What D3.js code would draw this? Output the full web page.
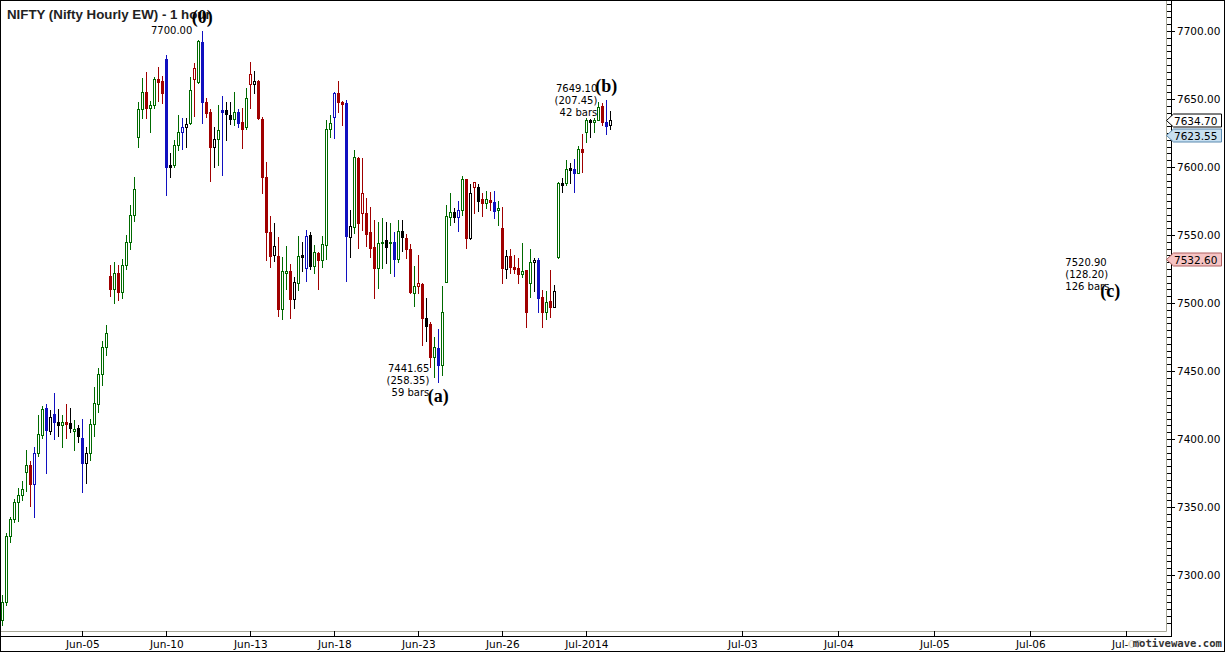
<!DOCTYPE html>
<html><head><meta charset="utf-8">
<script src="https://cdn.jsdelivr.net/npm/d3@7"></script>
<style>body{margin:0;background:#fff}svg{display:block}</style>
</head><body>
<svg id="chart" width="1225" height="652"></svg>
<script>
const opens = [7267,7280,7329,7341,7354,7359,7376,7381,7367,7390,
 7403,7422.6,7406,7418.4,7412.3,7410,7412.5,7411.5,7406,7408,
 7400.5,7382,7389.5,7410.8,7426,7448,7468,7520,7510,7522,
 7508,7528,7545,7565,7621.8,7642.4,7655.4,7643.6,7645.6,7664.5,
 7663.2,7679.2,7601.5,7601.5,7616.2,7625.5,7629.6,7632.1,7664.5,7662.7,
 7691.7,7648,7640.7,7614.5,7620.6,7641.9,7641.9,7638.2,7635.1,7640.7,
 7632.9,7629.2,7660.8,7660.8,7663.2,7635.1,7592.4,7552.4,7535.3,7534.8,
 7495.4,7522.3,7523.5,7502.9,7514.9,7535.3,7525.5,7550,7527.4,7536.6,
 7531.6,7542.6,7627.7,7636.5,7654.2,7648,7647.3,7548.7,7556.1,7606.4,
 7566,7566,7552,7541.4,7525.5,7543.9,7546.3,7544,7545.1,7532.4,
 7553.2,7547.6,7539.7,7507.6,7512.5,7514,7489.2,7484.3,7460.5,7466.7,
 7454.4,7515.7,7563.5,7566.7,7563,7568.4,7591,7547.6,7585.1,7585.1,
 7576.2,7573.3,7575.7,7574,7568.4,7554.9,7524.8,7534.8,7526.2,7525.5,
 7521.1,7524.3,7514.5,7529.9,7531.6,7504.2,7493.6,7501.5,7496.8,7534,
 7588,7588,7599,7598.3,7595.8,7613,7626,7634.6,7633.3,7634.6,
 7644.9,7633.3,7630.9];
const highs = [7285,7331,7343,7356,7364,7369,7392,7384,7394,7418,
 7424,7426,7421,7433.6,7422,7418,7426,7423,7414,7410,
 7415,7394,7415,7438,7452,7472,7484,7528,7530,7528,
 7532,7550,7572,7593,7648,7665.2,7669.6,7648.5,7666.4,7673.7,
 7666.9,7682.4,7610.1,7619.9,7638.2,7635.8,7635.8,7666.4,7676.7,7693.4,
 7700,7650.5,7642.4,7629.2,7645.6,7652.2,7648,7648,7655.4,7642.4,
 7643.2,7657.9,7677,7670.8,7664,7636.5,7603.9,7564,7558.6,7548.7,
 7533.6,7541.9,7528.7,7519.3,7549.3,7545.1,7553.7,7552.4,7542.6,7537.8,
 7549.3,7634.6,7638.2,7655.4,7663.2,7648.7,7649.3,7568.4,7612.5,7607,
 7606.4,7577,7570.8,7561,7559.8,7562.3,7559.8,7558.6,7552.4,7561,
 7561,7550.5,7543.4,7527.2,7535.3,7514.5,7503.5,7486.3,7475.2,7480.7,
 7512.5,7572.1,7581.1,7569.6,7575,7593.4,7591.5,7587.5,7589.2,7587.3,
 7580.7,7582.4,7581.8,7582.4,7575,7570.4,7539,7539.5,7535.3,7532.9,
 7544.3,7524.5,7539.7,7532.9,7532.9,7509.6,7509,7524.3,7513.2,7589.2,
 7591.7,7605.1,7602.7,7605.7,7615.4,7624.3,7635.8,7635,7635.8,7647.6,
 7646.8,7649.1,7641.4];
const lows = [7263,7278,7324,7339,7340,7355,7362,7351,7343,7387.5,
 7401,7375,7404,7400,7402,7394,7401,7405,7392,7397.6,
 7361,7368,7384.6,7402.4,7420,7440,7462,7505,7500,7502,
 7504,7525,7540,7560,7614.9,7635.8,7635.8,7626,7643.2,7648.7,
 7646.8,7579.4,7592.9,7599.8,7612.5,7613.2,7614.5,7631.6,7637.5,7662,
 7632.6,7637,7589.9,7599.8,7601.5,7594.1,7619.9,7631.4,7630.9,7629.6,
 7613.7,7627.7,7643.6,7654.6,7635.1,7581.1,7531.6,7526.2,7531.1,7490.4,
 7488,7510.1,7488.7,7496.1,7509.6,7523.8,7516.4,7524.8,7522.3,7510.1,
 7526.2,7532.1,7622.3,7621.1,7640.2,7630.9,7516.4,7534,7551.7,7540.2,
 7553.7,7542,7534,7503.5,7510.8,7525.5,7529.6,7521.8,7520.1,7530.4,
 7538.5,7532.9,7507.1,7497.8,7507.1,7469.1,7472.3,7452.7,7445.8,7441.65,
 7447.1,7515.7,7557.4,7559.8,7553.2,7564.7,7540.2,7547,7566.4,7567.9,
 7564.2,7569.6,7568.4,7562.3,7557.4,7514.9,7518.2,7521.8,7521.8,7514.9,
 7518.9,7482.1,7504.6,7509,7493.6,7482.6,7488.2,7489.9,7496.8,7532.9,
 7581.8,7586.8,7588.5,7581.8,7595.4,7596.5,7618.6,7622.3,7626,7634.6,
 7630.9,7624.3,7627.7];
const closes = [7280,7329,7341,7353.5,7359,7363,7381,7367,7390,7404,
 7422,7406.6,7416,7412.3,7410,7412.3,7411.2,7408,7407.4,7402.4,
 7382,7390,7410.8,7426.2,7448,7468,7478,7510,7522,7508,
 7528,7545,7565,7584,7642.4,7655.4,7643.2,7645.4,7664.5,7662.7,
 7654.6,7600.2,7600.2,7616.2,7625.5,7629.6,7631.4,7656.6,7672.6,7692.6,
 7647.6,7639.9,7614.5,7620.6,7627.2,7640.7,7638.7,7635.1,7640.2,7632.1,
 7627.7,7650.5,7668.2,7663.2,7635.8,7592.4,7552.4,7534.8,7542.1,7495.4,
 7523.5,7523.8,7502.9,7515.7,7534.6,7534,7549.3,7527.4,7537.3,7531.6,
 7543.2,7627.7,7632.1,7654.2,7647.6,7646.1,7549.5,7556.6,7607.1,7558.6,
 7580.7,7551,7540.2,7525.5,7543.9,7545.1,7541,7544.7,7532.4,7552.9,
 7548.3,7539.7,7508.3,7512.5,7514.5,7488.7,7483.3,7460.5,7467.4,7454.4,
 7493.6,7564,7566.7,7563.5,7568.4,7591,7547.6,7580.7,7588.7,7575.2,
 7573.3,7576.2,7574,7567.9,7569.6,7525.5,7534.6,7526.2,7525,7521.3,
 7523.5,7493.6,7529.9,7531.6,7503.9,7493.6,7501,7496.8,7509,7588,
 7586.8,7598.3,7597.8,7595.8,7613,7611.2,7634.6,7633.3,7634.6,7644.3,
 7633.3,7630.1,7634.7];
// bar colouring class per bar: g=green, r=red, b=blue, k=black
const barClass = ("gggggggrbg"+"gbkbkgrkgk"+"bkgggggrgr"+"ggggggrggr"+"rbkggbkgrg"+
  "brrkgbkkgb"+"rgrkrrrrkr"+"ggrkgkbkgr"+"gggbrrbkgr"+"rrrrggkgbg"+
  "krrgrrkrgb"+"gggkbgrkrk"+"rgrbgrkrrr"+"grgkbrgrkg"+"kgkbgrgkgg"+"rbk").split("");

const xTickSlots  = [20,41,62,83,104,125,146,185,209,233,257,281];
const xTickLabels = ["Jun-05","Jun-10","Jun-13","Jun-18","Jun-23","Jun-26","Jul-2014","Jul-03","Jul-04","Jul-05","Jul-06","Jul-07"];
const yTickValues = [7300,7350,7400,7450,7500,7550,7600,7650,7700];

const waveSlots  = [50,109,151,277];
const wavePrices = [7700.00,7441.65,7649.10,7520.90];
const waveNames  = ["(0)","(a)","(b)","(c)"];
const waveInfo   = [["7700.00"],["7441.65","(258.35)","59 bars"],["7649.10","(207.45)","42 bars"],["7520.90","(128.20)","126 bars"]];

const markerPrices = [7634.70,7623.55,7532.60];
const markerKinds  = ["last","ma","other"];

const title = "NIFTY (Nifty Hourly EW) - 1 hour";

// ---------------------------------------------------------------
const W = 1225, H = 652;
const plotR = 1166, plotB = 631;
const svg = d3.select("#chart");
const x = d3.scaleLinear().domain([0, 291]).range([2.3, 1166.3]);
const y = d3.scaleLinear().domain([7300, 7700]).range([575, 31]);
const colorOf = {g:"#006a00", r:"#a00000", b:"#1010c0", k:"#000000"};
const SANS = "'DejaVu Sans', Verdana, sans-serif";
const SERIF = "'Liberation Serif', 'Times New Roman', serif";

svg.append("rect").attr("width",W).attr("height",H).attr("fill","#fff");

// plot border lines (grey)
svg.append("line").attr("x1",plotR+0.5).attr("x2",plotR+0.5).attr("y1",0).attr("y2",plotB+0.5)
  .attr("stroke","#a8a898");
svg.append("line").attr("x1",0).attr("x2",plotR+0.5).attr("y1",plotB+0.5).attr("y2",plotB+0.5)
  .attr("stroke","#a8a898");

// candles
const bars = d3.range(opens.length).map(i => ({i, o:opens[i], h:highs[i], l:lows[i], c:closes[i], k:barClass[i]}));
const gC = svg.append("g");
bars.forEach(d => {
  const col = colorOf[d.k];
  const cx = Math.round(x(d.i));
  gC.append("line").attr("x1",cx+0.5).attr("x2",cx+0.5)
    .attr("y1",Math.round(y(d.h))).attr("y2",Math.round(y(d.l))+1)
    .attr("stroke",col).attr("stroke-width",1);
  const top = Math.round(y(Math.max(d.o,d.c)));
  const bot = Math.round(y(Math.min(d.o,d.c)));
  if (d.c >= d.o) {
    gC.append("rect").attr("x",cx-0.5).attr("y",top+0.5).attr("width",2).attr("height",Math.max(1,bot-top))
      .attr("fill","#fff").attr("stroke",col).attr("stroke-width",1);
  } else {
    gC.append("rect").attr("x",cx-1).attr("y",top).attr("width",3).attr("height",Math.max(2,bot-top+1))
      .attr("fill",col);
  }
});

// title
svg.append("text").attr("x",7).attr("y",19).text(title)
  .attr("font-family","'Liberation Sans', Arial, sans-serif").attr("font-weight","bold").attr("font-size",13.3).attr("fill","#222");

// wave labels
waveSlots.forEach((s,j) => {
  const px = x(s), py = y(wavePrices[j]);
  const info = waveInfo[j];
  let ly;
  if (j===0) ly = py - 8;
  else if (j===1) ly = py + 20;
  else if (j===2) ly = py - 8;
  else ly = py + 22;
  svg.append("text").attr("x",px).attr("y",ly).attr("text-anchor","middle").text(waveNames[j])
    .attr("font-family",SERIF).attr("font-weight","bold").attr("font-size",18).attr("fill","#000");
  const tg = svg.append("g").attr("font-family",SANS).attr("font-size",10).attr("fill","#000");
  if (j===0) {
    tg.append("text").attr("x",px-10).attr("y",py+3).attr("text-anchor","end").text(info[0]);
  } else if (j===3) {
    info.forEach((t,k)=> tg.append("text").attr("x",px-45).attr("y",py-9+k*12).text(t));
  } else {
    const base = (j===1) ? py - 10 : py - 8;
    info.forEach((t,k)=> tg.append("text").attr("x",px-9).attr("y",base+k*12).attr("text-anchor","end").text(t));
  }
});

// right axis
const axX = 1171;
svg.append("line").attr("x1",axX+0.5).attr("x2",axX+0.5).attr("y1",0).attr("y2",plotB+5).attr("stroke","#000");
const minor = d3.range(7265, 7725, 5);
svg.append("g").selectAll("line").data(minor).join("line")
  .attr("x1",axX-4).attr("x2",axX).attr("y1",d=>Math.round(y(d))+0.5).attr("y2",d=>Math.round(y(d))+0.5)
  .attr("stroke","#000");
const yAxisG = svg.append("g").attr("transform",`translate(${axX+1},0)`)
  .call(d3.axisRight(y).tickValues(yTickValues).tickFormat(d3.format(".2f")).tickSize(3).tickPadding(2));
yAxisG.select(".domain").remove();
yAxisG.selectAll("text").attr("font-family",SANS).attr("font-size",10.5).attr("fill","#000");

// bottom axis
const axY = 636;
svg.append("line").attr("x1",0).attr("x2",axX+1).attr("y1",axY+0.5).attr("y2",axY+0.5).attr("stroke","#000");
const xAxisG = svg.append("g").attr("transform",`translate(0,${plotB})`)
  .call(d3.axisBottom(x).tickValues(xTickSlots).tickFormat((d,i)=>xTickLabels[i]).tickSize(5).tickPadding(3));
xAxisG.select(".domain").remove();
xAxisG.selectAll("line").attr("transform","translate(-0.3,0)");
xAxisG.selectAll("text").attr("font-family",SANS).attr("font-size",10.5).attr("fill","#000").attr("dy","0.9em");

// price markers on right axis
const mkFill = {last:"#ffffff", ma:"#c8dff0", other:"#f6c4c4"};
const mkStroke = {last:"#000000", ma:"#5a8ab0", other:"#b06060"};
markerPrices.forEach((p,j) => {
  const cy = Math.round(y(p)) + 0.5;
  const h = 6.5, x0 = plotR + 0.5, x1 = x0 + 7, x2 = 1221.5;
  svg.append("path").attr("d",`M${x0},${cy} L${x1},${cy-h} L${x2},${cy-h} L${x2},${cy+h} L${x1},${cy+h} Z`)
    .attr("fill",mkFill[markerKinds[j]]).attr("stroke",mkStroke[markerKinds[j]]);
  svg.append("text").attr("x",1174).attr("y",cy+4).text(d3.format(".2f")(p))
    .attr("font-family",SANS).attr("font-size",10.5).attr("fill","#000");
});

// watermark
svg.append("rect").attr("x",1129).attr("y",637).attr("width",94).attr("height",13).attr("fill","#fff").attr("opacity",0.8);
svg.append("text").attr("x",1222).attr("y",647).attr("text-anchor","end").text("motivewave.com")
  .attr("font-family","'DejaVu Sans Mono', monospace").attr("font-weight","bold").attr("font-size",10.6).attr("fill","#333");

// outer frame
svg.append("rect").attr("x",0.5).attr("y",0.5).attr("width",W-1).attr("height",H-1).attr("fill","none").attr("stroke","#000");
</script>
</body></html>
